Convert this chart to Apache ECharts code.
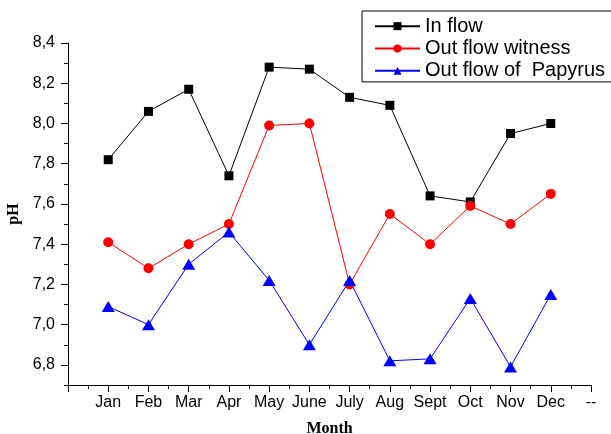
<!DOCTYPE html>
<html>
<head>
<meta charset="utf-8">
<script src="https://cdn.jsdelivr.net/npm/echarts@6/dist/echarts.min.js"></script>
<style>
  html, body { margin: 0; padding: 0; background: #fff; }
  #chart { width: 611px; height: 434px; }
</style>
</head>
<body>
<div id="chart"></div>
<script>
// Monthly pH of inflow and the two outflows
const months = ['Jan', 'Feb', 'Mar', 'Apr', 'May', 'June', 'July', 'Aug', 'Sept', 'Oct', 'Nov', 'Dec'];
const xTickLabels = [''].concat(months, ['--']);
const inFlow = [7.82, 8.06, 8.17, 7.74, 8.28, 8.27, 8.13, 8.09, 7.64, 7.61, 7.95, 8.00];
const outWitness = [7.41, 7.28, 7.40, 7.50, 7.99, 8.00, 7.20, 7.55, 7.40, 7.59, 7.50, 7.65];
const outPapyrus = [7.09, 7.00, 7.30, 7.46, 7.22, 6.90, 7.22, 6.82, 6.83, 7.13, 6.79, 7.15];
const yTicks = [6.8, 7.0, 7.2, 7.4, 7.6, 7.8, 8.0, 8.2, 8.4];

const pairs = vals => vals.map((v, i) => [i + 1, v]);

const chart = echarts.init(document.getElementById('chart'), null, { renderer: 'canvas' });
const FONT = 'Liberation Sans';
const axisCol = '#000';

chart.setOption({
  animation: false,
  backgroundColor: '#fff',
  grid: { left: 68, right: 20, top: 43, bottom: 49, containLabel: false, outerBoundsMode: 'none' },
  legend: {
    orient: 'vertical',
    left: 362,
    top: 11,
    padding: [4, 8, 0, 12],
    itemGap: 0,
    itemWidth: 45,
    itemHeight: 10,
    borderColor: '#000',
    borderWidth: 1,
    textStyle: { fontFamily: FONT, fontSize: 20, color: '#000', lineHeight: 22.3 },
    data: ['In flow', 'Out flow witness', 'Out flow of  Papyrus']
  },
  xAxis: {
    type: 'value',
    min: 0,
    max: 13,
    interval: 1,
    name: 'Month',
    nameLocation: 'middle',
    nameGap: 36,
    nameTextStyle: { fontFamily: 'Liberation Serif', fontWeight: 'bold', fontSize: 16, color: '#000' },
    axisLine: { show: true, lineStyle: { color: axisCol, width: 1 } },
    axisTick: { show: true, length: 7, lineStyle: { color: axisCol } },
    minorTick: { show: true, splitNumber: 2, length: 4, lineStyle: { color: axisCol } },
    splitLine: { show: false },
    axisLabel: {
      margin: 10,
      fontFamily: FONT, fontSize: 16, color: '#000',
      formatter: v => xTickLabels[Math.round(v)] || ''
    }
  },
  yAxis: [
    {
      type: 'value',
      min: 6.7,
      max: 8.4,
      interval: 0.1,
      position: 'left',
      axisLine: { show: true, lineStyle: { color: axisCol, width: 1 } },
      axisTick: { show: true, length: 4, lineStyle: { color: axisCol } },
      axisLabel: { show: false },
      splitLine: { show: false }
    },
    {
      type: 'value',
      min: 6.7,
      max: 8.4,
      position: 'left',
      name: 'pH',
      nameLocation: 'middle',
      nameGap: 45,
      nameRotate: 90,
      nameTextStyle: { fontFamily: 'Liberation Serif', fontWeight: 'bold', fontSize: 16, color: '#000' },
      axisLine: { show: false },
      axisTick: { show: true, length: 7, customValues: yTicks, lineStyle: { color: axisCol } },
      axisLabel: {
        margin: 13,
        customValues: yTicks,
        fontFamily: FONT, fontSize: 16, color: '#000',
        formatter: v => Number(v).toFixed(1).replace('.', ',')
      },
      splitLine: { show: false }
    }
  ],
  series: [
    {
      name: 'In flow',
      type: 'line',
      yAxisIndex: 0,
      data: pairs(inFlow),
      symbol: 'rect',
      symbolSize: 9,
      lineStyle: { color: '#000', width: 1 },
      itemStyle: { color: '#000' }
    },
    {
      name: 'Out flow witness',
      type: 'line',
      yAxisIndex: 0,
      data: pairs(outWitness),
      symbol: 'circle',
      symbolSize: 10,
      lineStyle: { color: '#ff0000', width: 1 },
      itemStyle: { color: '#ff0000' }
    },
    {
      name: 'Out flow of  Papyrus',
      type: 'line',
      yAxisIndex: 0,
      data: pairs(outPapyrus),
      symbol: 'triangle',
      symbolSize: [13, 11],
      lineStyle: { color: '#0000ff', width: 1 },
      itemStyle: { color: '#0000ff' }
    }
  ]
});
</script>
</body>
</html>
